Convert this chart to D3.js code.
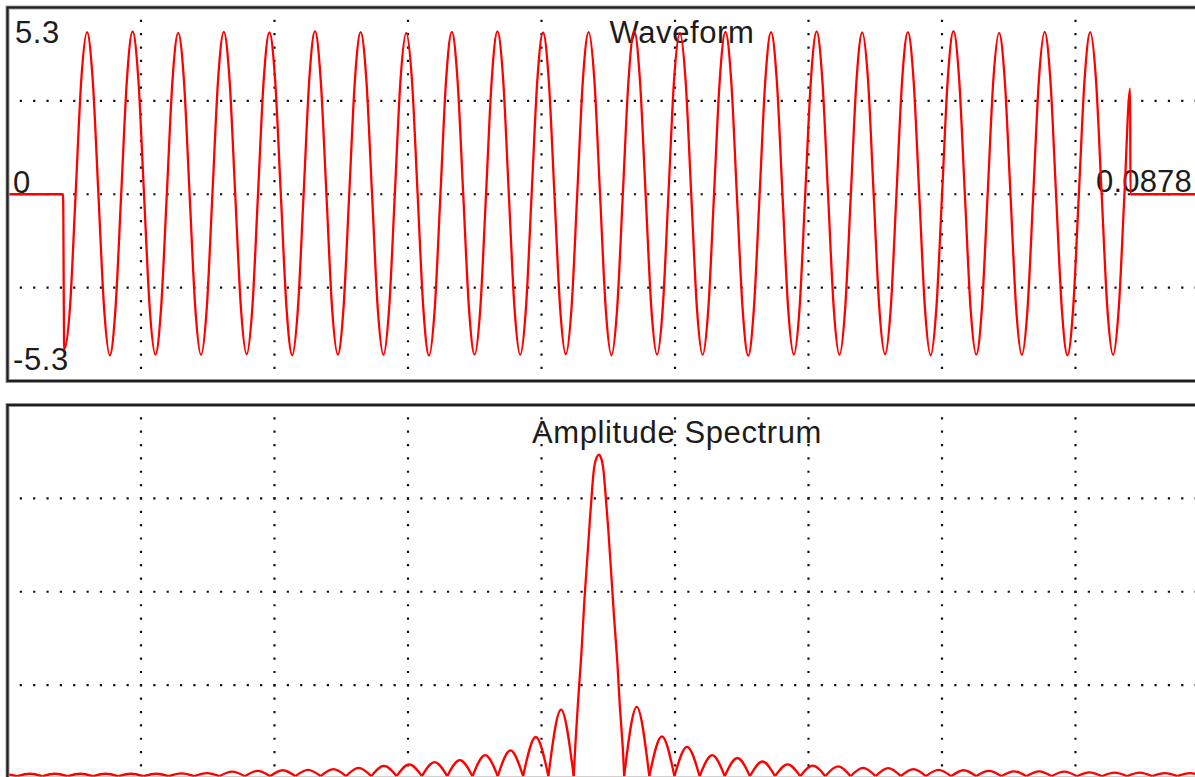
<!DOCTYPE html>
<html>
<head>
<meta charset="utf-8">
<title>Tone burst: waveform and amplitude spectrum</title>
<script src="https://cdn.jsdelivr.net/npm/d3@7"></script>
<style>
  html, body { margin: 0; padding: 0; background: #ffffff; }
  svg { display: block; }
  text { font-family: "Liberation Sans", Arial, Helvetica, sans-serif; fill: #1c1c1c; }
</style>
</head>
<body>
<svg id="chart" width="1195" height="777"></svg>
<script>
// ---------- data ----------
// Time axis of the waveform (milliseconds) and its printed labels
const timeSpanMs = 87.8;
const timeLabels = ["0", "0.0878"];
const ampLabels = ["5.3", "-5.3"];
const ampLimit = 5.3;

// 300 Hz burst, one sample every eighth of a period
const leadInMs = 4.06;        // silence before the burst
const burstOnsetMs = 4.144;   // time of the first burst sample
const sampleStepMs = 0.41655;
const burstEndMs = 82.06;     // silence after the burst
const waveValues = [
  -4.40, -3.24, 0.00, 3.26, 4.60, 3.25, 0.00, -3.24,
  -4.57, -3.23, 0.01, 3.25, 4.62, 3.27, 0.00, -3.23,
  -4.55, -3.22, 0.00, 3.24, 4.58, 3.24, -0.01, -3.24,
  -4.56, -3.25, 0.00, 3.26, 4.61, 3.26, 0.00, -3.22,
  -4.54, -3.23, 0.01, 3.25, 4.59, 3.25, 0.00, -3.23,
  -4.57, -3.24, 0.00, 3.27, 4.63, 3.24, 0.00, -3.25,
  -4.55, -3.22, 0.00, 3.24, 4.60, 3.26, 0.01, -3.23,
  -4.56, -3.24, 0.00, 3.25, 4.58, 3.25, 0.00, -3.24,
  -4.58, -3.25, -0.01, 3.26, 4.61, 3.24, 0.00, -3.22,
  -4.55, -3.23, 0.00, 3.25, 4.62, 3.27, 0.00, -3.24,
  -4.56, -3.24, 0.00, 3.24, 4.59, 3.25, 0.00, -3.23,
  -4.54, -3.22, 0.01, 3.26, 4.60, 3.26, 0.00, -3.25,
  -4.57, -3.25, 0.00, 3.25, 4.63, 3.24, -0.01, -3.23,
  -4.55, -3.23, 0.00, 3.27, 4.58, 3.25, 0.00, -3.24,
  -4.56, -3.24, 0.00, 3.24, 4.61, 3.26, 0.00, -3.22,
  -4.58, -3.22, 0.00, 3.25, 4.60, 3.25, 0.01, -3.24,
  -4.55, -3.24, 0.01, 3.26, 4.62, 3.24, 0.00, -3.23,
  -4.56, -3.25, 0.00, 3.25, 4.59, 3.27, 0.00, -3.25,
  -4.54, -3.23, 0.00, 3.24, 4.60, 3.25, 0.00, -3.24,
  -4.57, -3.24, -0.01, 3.26, 4.63, 3.26, 0.00, -3.23,
  -4.55, -3.22, 0.00, 3.25, 4.58, 3.24, 0.01, -3.24,
  -4.56, -3.24, 0.00, 3.27, 4.61, 3.25, 0.00, -3.22,
  -4.57, -3.23, 0.00, 3.25, 4.60, 3.26, 0.00, -3.24,
  -4.56, -3.24, 0.00, 3.00
];

// Amplitude spectrum: lobe nulls (amplitude 0) and lobe tops, in Hz
const freqSpanHz = 610;
const specHz = [
  -7.98, -1.56, 4.86, 11.29, 17.71, 24.13, 30.55, 36.98, 43.40, 49.82,
  56.25, 62.67, 69.09, 75.51, 81.94, 88.36, 94.78, 101.20, 107.62, 114.05,
  120.47, 126.89, 133.31, 139.74, 146.16, 152.58, 159.00, 165.43, 171.85, 178.27,
  184.70, 191.12, 197.54, 203.96, 210.39, 216.81, 223.23, 229.65, 236.08, 242.50,
  248.92, 255.34, 261.77, 268.19, 274.61, 281.03, 287.46,
  288.3, 290.0, 291.6, 292.9, 294.4, 295.7, 296.9, 297.9, 299.1, 300.3,
  301.5, 302.6, 303.7, 305.0, 306.4, 307.9, 309.6, 310.9, 312.3, 313.07,
  319.45, 325.84, 332.22, 338.60, 344.99, 351.37, 357.76, 364.14, 370.53, 376.91,
  383.29, 389.68, 396.06, 402.44, 408.83, 415.21, 421.60, 427.98, 434.37, 440.75,
  447.13, 453.52, 459.90, 466.28, 472.67, 479.05, 485.44, 491.82, 498.21, 504.59,
  510.97, 517.36, 523.74, 530.12, 536.51, 542.89, 549.28, 555.66, 562.05, 568.43,
  574.81, 581.20, 587.58, 593.96, 600.35, 606.73, 613.12, 619.50
];
const specAmp = [
  0, 0.03, 0, 0.035, 0, 0.035, 0, 0.035, 0, 0.035,
  0, 0.035, 0, 0.035, 0, 0.04, 0, 0.045, 0, 0.065,
  0, 0.075, 0, 0.085, 0, 0.09, 0, 0.10, 0, 0.12,
  0, 0.146, 0, 0.17, 0, 0.20, 0, 0.23, 0, 0.30,
  0, 0.37, 0, 0.56, 0, 0.95, 0,
  0.45, 1.20, 1.86, 2.52, 3.13, 3.67, 4.13, 4.42, 4.55, 4.59,
  4.53, 4.36, 4.00, 3.53, 2.94, 2.29, 1.63, 0.99, 0.44, 0,
  0.99, 0, 0.57, 0, 0.42, 0, 0.30, 0, 0.26, 0,
  0.21, 0, 0.17, 0, 0.15, 0, 0.14, 0, 0.12, 0,
  0.115, 0, 0.10, 0, 0.09, 0, 0.085, 0, 0.075, 0,
  0.07, 0, 0.07, 0, 0.065, 0, 0.055, 0, 0.05, 0,
  0.05, 0, 0.045, 0, 0.045, 0, 0.04, 0
];

const titles = ["Waveform", "Amplitude Spectrum"];

// ---------- layout ----------
const W = 1195, H = 777;
const plotLeft = 7.5, plotRight = 1209;
const divX = 9, divY = 4;
const panels = [
  { top: 7.5, bottom: 381 },
  { top: 405, bottom: 778.5 }
];
const dotStep = (plotRight - plotLeft) / (divX * 10);

const svg = d3.select("#chart").attr("viewBox", `0 0 ${W} ${H}`);
svg.append("rect").attr("width", W).attr("height", H).attr("fill", "#ffffff");

const defs = svg.append("defs");
panels.forEach((p, i) => {
  defs.append("clipPath").attr("id", "clip" + i)
    .append("rect")
    .attr("x", plotLeft).attr("y", p.top)
    .attr("width", plotRight - plotLeft).attr("height", p.bottom - p.top);
});

// dotted grid in each panel
panels.forEach(p => {
  const gx = d3.scaleLinear().domain([0, divX]).range([plotLeft, plotRight]);
  const gy = d3.scaleLinear().domain([0, divY]).range([p.top, p.bottom]);
  const g = svg.append("g")
    .attr("stroke", "#111111").attr("stroke-width", 2.2)
    .attr("stroke-dasharray", `2.2 ${dotStep - 2.2}`)
    .attr("stroke-dashoffset", 1.1);
  g.selectAll("line.v").data(d3.range(1, divX)).join("line")
    .attr("class", "v")
    .attr("x1", d => gx(d)).attr("x2", d => gx(d))
    .attr("y1", p.top).attr("y2", p.bottom);
  g.selectAll("line.h").data(d3.range(1, divY)).join("line")
    .attr("class", "h")
    .attr("y1", d => gy(d)).attr("y2", d => gy(d))
    .attr("x1", plotLeft).attr("x2", plotRight);
});

// ---------- scales ----------
const xTime = d3.scaleLinear().domain([0, timeSpanMs]).range([plotLeft, plotRight]);
const yWave = d3.scaleLinear().domain([-ampLimit, ampLimit]).range([panels[0].bottom, panels[0].top]);
const xFreq = d3.scaleLinear().domain([0, freqSpanHz]).range([plotLeft, plotRight]);
const ySpec = d3.scaleLinear().domain([0, ampLimit]).range([776.2, panels[1].top]);

// ---------- text ----------
const fontSize = 31;
const txt = svg.append("g")
  .attr("font-size", fontSize)
  .attr("letter-spacing", 0.6);

txt.append("text").attr("x", 15).attr("y", 43).text(ampLabels[0]);
txt.append("text").attr("x", 13).attr("y", 370).text(ampLabels[1]);
txt.append("text").attr("x", 13).attr("y", 193).text(timeLabels[0]);
txt.append("text").attr("x", 1192).attr("y", 192).attr("text-anchor", "end")
  .attr("letter-spacing", 0.2).text(timeLabels[1]);
txt.append("text").attr("x", 682).attr("y", 43).attr("text-anchor", "middle").text(titles[0]);
txt.append("text").attr("x", 677).attr("y", 443).attr("text-anchor", "middle").text(titles[1]);

// ---------- waveform ----------
const wavePts = [{ t: 0, v: 0 }, { t: leadInMs, v: 0 }]
  .concat(waveValues.map((v, i) => ({ t: burstOnsetMs + i * sampleStepMs, v })))
  .concat([{ t: burstEndMs, v: 0 }, { t: timeSpanMs, v: 0 }]);

const waveLine = d3.line()
  .x(d => xTime(d.t))
  .y(d => yWave(d.v))
  .curve(d3.curveMonotoneX);

svg.append("path")
  .attr("clip-path", "url(#clip0)")
  .attr("d", waveLine(wavePts))
  .attr("fill", "none")
  .attr("stroke", "#ff0000")
  .attr("stroke-width", 2.3)
  .attr("stroke-linejoin", "round");

// ---------- spectrum: one smooth arch per lobe, split at the nulls ----------
const specPts = specHz.map((f, i) => ({ f, a: specAmp[i] }));
const lobes = [];
let current = [specPts[0]];
for (let i = 1; i < specPts.length; i++) {
  current.push(specPts[i]);
  if (specPts[i].a === 0) {
    lobes.push(current);
    current = [specPts[i]];
  }
}
if (current.length > 1) lobes.push(current);

const specLine = d3.line()
  .x(d => xFreq(d.f))
  .y(d => ySpec(d.a))
  .curve(d3.curveNatural);

svg.append("g")
  .attr("clip-path", "url(#clip1)")
  .selectAll("path")
  .data(lobes)
  .join("path")
  .attr("d", specLine)
  .attr("fill", "none")
  .attr("stroke", "#ff0000")
  .attr("stroke-width", 2.3)
  .attr("stroke-linejoin", "round");

// ---------- panel frames ----------
panels.forEach(p => {
  svg.append("rect")
    .attr("x", plotLeft).attr("y", p.top)
    .attr("width", plotRight - plotLeft).attr("height", p.bottom - p.top)
    .attr("fill", "none").attr("stroke", "#a0a0a0").attr("stroke-width", 4);
  svg.append("rect")
    .attr("x", plotLeft).attr("y", p.top)
    .attr("width", plotRight - plotLeft).attr("height", p.bottom - p.top)
    .attr("fill", "none").attr("stroke", "#1e1e1e").attr("stroke-width", 2.2);
});
</script>
</body>
</html>
